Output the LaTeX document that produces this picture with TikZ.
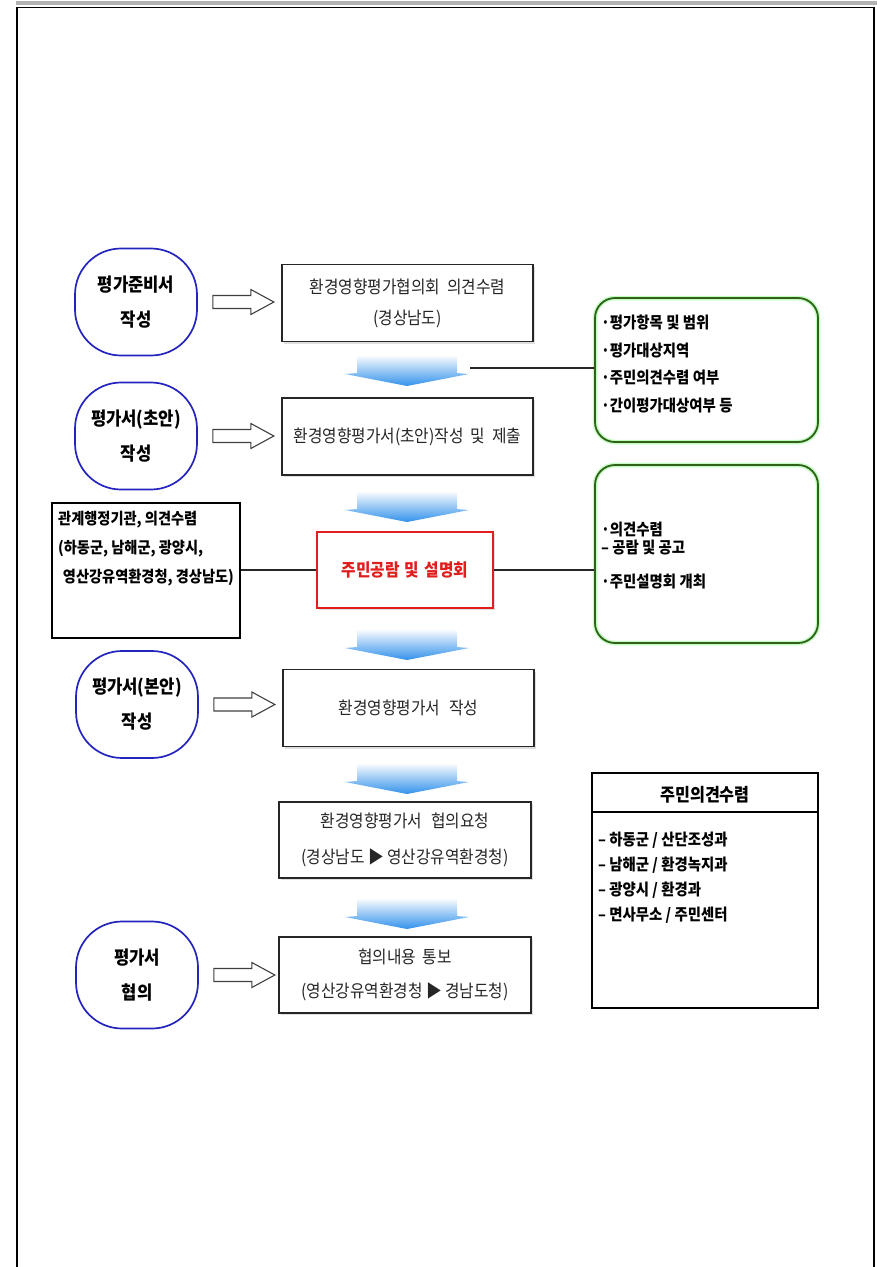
\documentclass[tikz,border=0pt]{standalone}
\usepackage{fontspec}
\setmainfont{Noto Sans CJK KR}[FakeStretch=0.9]
\usetikzlibrary{calc,shadows}
\definecolor{cblue}{RGB}{35,35,190}
\definecolor{cgreen}{RGB}{50,95,25}
\definecolor{cred}{RGB}{225,30,30}
\definecolor{chev}{RGB}{50,145,235}
\newcommand\chevron[3]{%
  \shade[top color=chev!4, bottom color=chev] (#2-50,#3) -- (#2+50,#3) -- (#2+50,#3+17) -- (#2+62,#3+18) -- (#2,#3+30) -- (#2-62,#3+18) -- (#2-50,#3+17) -- cycle;
  \coordinate (#1) at (#2,#3+12);}
\newcommand\harrow[1]{%
  \draw[hollow] ($(#1.east)+(15,-6.5)$) -- ++(38,0) -- ++(0,-6) -- ++(23,12.5) -- ++(-23,12.5) -- ++(0,-6) -- ++(-38,0) -- cycle;}
\begin{document}
\begin{tikzpicture}[x=1pt,y=-1pt,
  stage/.style={draw=cblue,line width=1.7pt,rounded corners=46pt,minimum width=122pt,minimum height=107pt,align=center,font=\bfseries\fontsize{18.5}{35}\selectfont,inner sep=0pt},
  mainbox/.style={draw=black!85,line width=1.5pt,fill=white,minimum width=251pt,minimum height=77pt,align=center,text=black!85,font=\fontsize{17.5}{31}\selectfont,drop shadow={opacity=0.25,shadow xshift=2pt,shadow yshift=-2pt},inner sep=0pt},
  redbox/.style={draw=cred,line width=1.6pt,fill=white,minimum width=176pt,minimum height=76pt,text=cred,font=\bfseries\fontsize{17.5}{20}\selectfont,drop shadow={opacity=0.25,shadow xshift=2pt,shadow yshift=-2pt},inner sep=0pt},
  sidebox/.style={draw=black,line width=1.8pt,fill=white,inner sep=0pt},
  greenbox/.style={draw=cgreen,line width=1.8pt,rounded corners=20pt,minimum width=223pt,inner sep=0pt,preaction={draw=green!25!white,line width=4.5pt}},
  sidetext/.style={align=left,inner sep=0pt,font=\bfseries\fontsize{16}{27.5}\selectfont},
  hollow/.style={draw=black!75,line width=1.1pt,fill=white},
  link/.style={draw=black!85,line width=1.3pt}]
\useasboundingbox (0,0) rectangle (877,1267);
% page frame
\fill[black!30] (16,1) rectangle (877,5);
\draw[line width=1.2pt] (17,1267) -- (17,7.5) -- (874,7.5) -- (874,1267);
% stages
\node[stage] (c1) at (136,302) {평가준비서\\작성};
\node[stage] (c2) at (136,436) {평가서(초안)\\작성};
\node[stage] (c3) at (137,704.5) {평가서(본안)\\작성};
\node[stage] (c4) at (137,975) {평가서\\협의};
% main boxes
\node[mainbox] (b1) at (407.5,303) {환경영향평가협의회\hspace{0.4em}의견수렴\\(경상남도)};
\node[mainbox] (b2) at (407.5,436.5) {환경영향평가서(초안)작성\hspace{0.4em}및\hspace{0.4em}제출};
\node[redbox] (rb) at (405,570) {주민공람\hspace{0.3em}및\hspace{0.3em}설명회};
\node[mainbox] (b3) at (408.5,708) {환경영향평가서\hspace{0.5em}작성};
\node[mainbox,minimum width=252pt,minimum height=76pt,font=\fontsize{17.5}{36}\selectfont] (b4) at (405,840) {환경영향평가서\hspace{0.5em}협의요청\\(경상남도 ▶ 영산강유역환경청)};
\node[mainbox,minimum width=252pt,minimum height=76pt,font=\fontsize{17.5}{34}\selectfont] (b5) at (405,975) {협의내용\hspace{0.4em}통보\\(영산강유역환경청 ▶ 경남도청)};
% hollow arrows
\harrow{c1}
\harrow{c2}
\harrow{c3}
\harrow{c4}
% chevrons
\chevron{ch1}{407}{356}
\chevron{ch2}{407}{492}
\chevron{ch3}{407}{630}
\chevron{ch4}{407}{764}
\chevron{ch5}{407}{899}
% left box
\node[sidebox,minimum width=188pt,minimum height=135pt] (lb) at (146,570.5) {};
\node[sidetext,anchor=north west,font=\bfseries\fontsize{15.8}{29}\selectfont] (lbt) at (58,511) {관계행정기관, 의견수렴\\(하동군, 남해군, 광양시,\\\hspace{0.3em}영산강유역환경청, 경상남도)};
% green boxes
\node[greenbox,minimum height=144pt] (g1) at (706.5,370) {};
\node[sidetext,anchor=west] (g1t) at (601,364) {·평가항목 및 범위\\·평가대상지역\\·주민의견수렴 여부\\·간이평가대상여부 등};
\node[greenbox,minimum height=178pt] (g2) at (706.5,554) {};
\node[sidetext,anchor=west,font=\bfseries\fontsize{16}{18}\selectfont] (g2t) at (601,556) {·의견수렴\\– 공람 및 공고\\[16pt]·주민설명회 개최};
% opinion box
\node[sidebox,minimum width=226pt,minimum height=235pt] (op) at (705,890.5) {};
\draw[line width=1.8pt] ($(op.north west)+(0,40)$) -- ($(op.north east)+(0,40)$);
\node[font=\bfseries\fontsize{18}{20}\selectfont,inner sep=0pt] (opt) at ($(op.north)+(0,23)$) {주민의견수렴};
\node[sidetext,anchor=north west,font=\bfseries\fontsize{16}{25}\selectfont] (opl) at (598,832) {– 하동군 / 산단조성과\\– 남해군 / 환경녹지과\\– 광양시 / 환경과\\– 면사무소 / 주민센터};
% links
\draw[link] ($(ch1)+(63,0)$) coordinate (l1) -- (l1 -| g1.west);
\draw[link] (lb.east |- rb.west) -- (rb.west);
\draw[link] (rb.east) -- (rb.east -| g2.west);
\end{tikzpicture}
\end{document}
